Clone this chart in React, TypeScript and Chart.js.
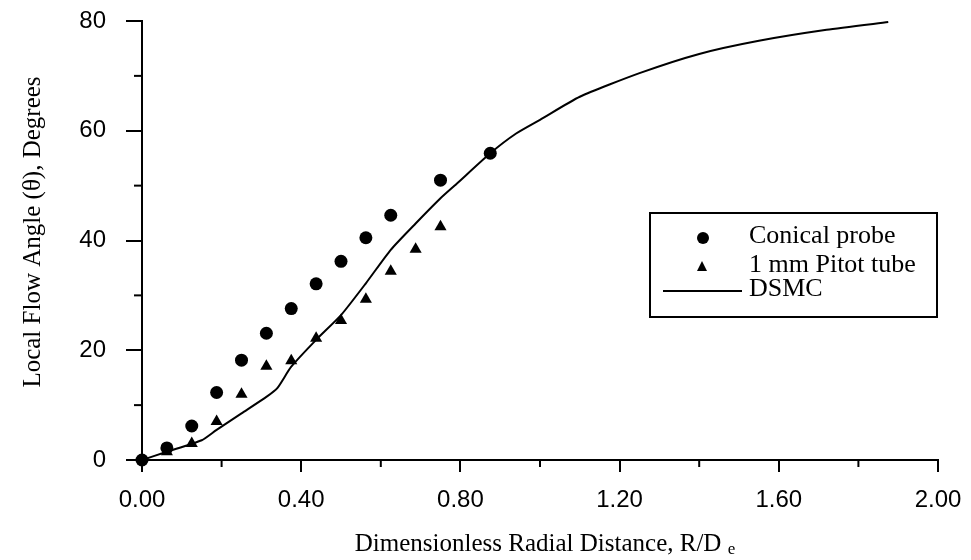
import React, { useEffect, useRef } from "react";
import { Chart, registerables } from "chart.js";

Chart.register(...registerables);

// ---- data ----
const conicalX = [0, 0.0625, 0.125, 0.1875, 0.25, 0.3125, 0.375, 0.4375, 0.5, 0.5625, 0.625, 0.75, 0.875];
const conicalY = [0, 2.2, 6.2, 12.3, 18.2, 23.1, 27.6, 32.1, 36.2, 40.5, 44.6, 51.0, 55.9];

const pitotX = [0.0625, 0.125, 0.1875, 0.25, 0.3125, 0.375, 0.4375, 0.5, 0.5625, 0.625, 0.6875, 0.75];
const pitotY = [1.5, 3.0, 7.0, 12.0, 17.1, 18.1, 22.2, 25.4, 29.3, 34.4, 38.4, 42.5];

const dsmcX = [0, 0.0625, 0.15, 0.1875, 0.25, 0.3125, 0.34, 0.375, 0.4375, 0.5, 0.5625, 0.625, 0.6875, 0.75, 0.79, 0.875, 0.94, 1.0, 1.1, 1.25, 1.4, 1.55, 1.72, 1.875];
const dsmcY = [0, 1.5, 3.6, 5.5, 8.5, 11.5, 13.1, 17.0, 21.9, 26.4, 32.2, 38.3, 43.1, 47.7, 50.3, 55.9, 59.5, 62.0, 66.2, 70.5, 74.0, 76.4, 78.4, 79.8];

const seriesLabels = ["Conical probe", "1 mm Pitot tube", "DSMC"];
const xTickLabels = ["0.00", "0.40", "0.80", "1.20", "1.60", "2.00"];
const yTickLabels = ["0", "20", "40", "60", "80"];
const xMinorTicks = [0.2, 0.6, 1.0, 1.4, 1.8];
const yMinorTicks = [10, 30, 50, 70];
const xTitleMain = "Dimensionless Radial Distance, R/D";
const xTitleSub = "e";
const yTitle = "Local Flow Angle (\u03B8), Degrees";

const SERIF = "'Liberation Serif', 'Times New Roman', serif";
const SANS = "'Liberation Sans', Arial, sans-serif";

const toPts = (xs: number[], ys: number[]) => xs.map((x, i) => ({ x, y: ys[i] }));

const decorPlugin = {
  id: "decor",
  afterDraw(chart: any) {
    const ctx = chart.ctx as CanvasRenderingContext2D;
    const xs = chart.scales.x;
    const ys = chart.scales.y;
    const area = chart.chartArea;
    ctx.save();
    ctx.strokeStyle = "#000";
    ctx.lineWidth = 2;
    // minor ticks
    xMinorTicks.forEach((v) => {
      const px = xs.getPixelForValue(v);
      ctx.beginPath();
      ctx.moveTo(px, area.bottom);
      ctx.lineTo(px, area.bottom + 7);
      ctx.stroke();
    });
    yMinorTicks.forEach((v) => {
      const py = ys.getPixelForValue(v);
      ctx.beginPath();
      ctx.moveTo(area.left - 8, py);
      ctx.lineTo(area.left, py);
      ctx.stroke();
    });

    ctx.fillStyle = "#000";

    // y title (rotated)
    ctx.save();
    ctx.translate(33, 232);
    ctx.rotate(-Math.PI / 2);
    ctx.font = `25px ${SERIF}`;
    ctx.textAlign = "center";
    ctx.textBaseline = "middle";
    ctx.fillText(yTitle, 0, 0);
    ctx.restore();

    // x title with subscript
    ctx.textBaseline = "alphabetic";
    ctx.font = `25px ${SERIF}`;
    const mainW = ctx.measureText(xTitleMain + " ").width;
    ctx.font = `17px ${SERIF}`;
    const subW = ctx.measureText(xTitleSub).width;
    const total = mainW + subW;
    const cx = 545;
    const baseY = 551;
    ctx.font = `25px ${SERIF}`;
    ctx.textAlign = "left";
    ctx.fillText(xTitleMain, cx - total / 2, baseY);
    ctx.font = `17px ${SERIF}`;
    ctx.fillText(xTitleSub, cx - total / 2 + mainW, baseY + 3);

    // legend box
    const bx = 650, by = 213, bw = 287, bh = 104;
    ctx.fillStyle = "#fff";
    ctx.fillRect(bx, by, bw, bh);
    ctx.strokeStyle = "#000";
    ctx.lineWidth = 2;
    ctx.strokeRect(bx, by, bw, bh);
    ctx.fillStyle = "#000";
    ctx.font = `26px ${SERIF}`;
    ctx.textBaseline = "middle";
    const rows = [236, 265, 289];
    const textX = 749;
    // circle
    ctx.beginPath();
    ctx.arc(703, rows[0] + 2, 6, 0, Math.PI * 2);
    ctx.fill();
    // triangle
    ctx.beginPath();
    ctx.moveTo(702, rows[1] - 4);
    ctx.lineTo(707, rows[1] + 6);
    ctx.lineTo(697, rows[1] + 6);
    ctx.closePath();
    ctx.fill();
    // line
    ctx.lineWidth = 2;
    ctx.beginPath();
    ctx.moveTo(663, rows[2] + 2);
    ctx.lineTo(742, rows[2] + 2);
    ctx.stroke();
    seriesLabels.forEach((t, i) => ctx.fillText(t, textX, rows[i]));
    ctx.restore();
  },
};

export default function App() {
  const ref = useRef<HTMLCanvasElement | null>(null);
  useEffect(() => {
    document.body.style.margin = "0";
    if (!ref.current) return;
    const chart = new Chart(ref.current, {
      type: "scatter",
      data: {
        datasets: [
          {
            label: seriesLabels[2],
            type: "line",
            data: toPts(dsmcX, dsmcY),
            borderColor: "#000",
            borderWidth: 2,
            pointRadius: 0,
            fill: false,
            tension: 0.2,
          } as any,
          {
            label: seriesLabels[0],
            data: toPts(conicalX, conicalY),
            pointStyle: "circle",
            pointRadius: 6.5,
            backgroundColor: "#000",
            borderColor: "#000",
            borderWidth: 0,
            clip: false,
          } as any,
          {
            label: seriesLabels[1],
            data: toPts(pitotX, pitotY),
            pointStyle: "triangle",
            pointRadius: 7,
            backgroundColor: "#000",
            borderColor: "#000",
            borderWidth: 0,
            clip: false,
          } as any,
        ],
      },
      options: {
        responsive: false,
        animation: false,
        layout: { padding: { left: 0, top: 21, right: 33, bottom: 0 } },
        plugins: { legend: { display: false }, tooltip: { enabled: false } },
        scales: {
          x: {
            type: "linear",
            min: 0,
            max: 2,
            afterFit: (s: any) => {
              s.height = 100;
              s.paddingLeft = 0;
              s.paddingRight = 0;
            },
            border: { display: true, color: "#000", width: 2 },
            grid: {
              drawOnChartArea: false,
              tickLength: 12,
              lineWidth: 2,
              color: (c: any) => (c.tick && xTickLabels.includes(Number(c.tick.value).toFixed(2)) ? "#000" : "rgba(0,0,0,0)"),
            },
            ticks: {
              stepSize: 0.4,
              autoSkip: false,
              maxRotation: 0,
              padding: 14,
              color: "#000",
              font: { family: SANS, size: 24 },
              callback: (v: any) => {
                const s = Number(v).toFixed(2);
                return xTickLabels.includes(s) ? s : "";
              },
            },
          },
          y: {
            type: "linear",
            min: 0,
            max: 80,
            afterFit: (s: any) => {
              s.width = 142;
              s.paddingTop = 0;
              s.paddingBottom = 0;
            },
            border: { display: true, color: "#000", width: 2 },
            grid: {
              drawOnChartArea: false,
              tickLength: 16,
              lineWidth: 2,
              color: "#000",
            },
            ticks: {
              stepSize: 20,
              autoSkip: false,
              padding: 20,
              color: "#000",
              font: { family: SANS, size: 24 },
              callback: (v: any) => {
                const s = String(Number(v));
                return yTickLabels.includes(s) ? s : "";
              },
            },
          },
        },
      },
      plugins: [decorPlugin],
    });
    return () => chart.destroy();
  }, []);
  return (
    <div style={{ width: 971, height: 560 }}>
      <canvas ref={ref} width={971} height={560} style={{ display: "block" }} />
    </div>
  );
}
